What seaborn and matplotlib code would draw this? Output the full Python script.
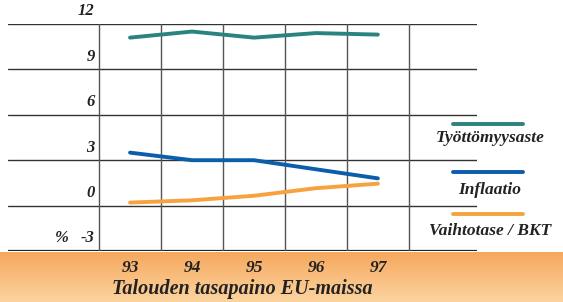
import numpy as np
import pandas as pd
import matplotlib.pyplot as plt
import seaborn as sns
from matplotlib.lines import Line2D

years = [93, 94, 95, 96, 97]
unemployment = [11.1, 11.5, 11.1, 11.4, 11.3]
inflation = [3.5, 3.0, 3.0, 2.4, 1.8]
current_account = [0.2, 0.35, 0.65, 1.15, 1.45]
series_names = ["Työttömyysaste", "Inflaatio", "Vaihtotase / BKT"]
y_ticks = [12, 9, 6, 3, 0, -3]
colors = ["#2a837e", "#0b5eab", "#f7a240"]

df = pd.DataFrame({
    "year": years * 3,
    "value": unemployment + inflation + current_account,
    "series": [s for s in series_names for _ in years],
})

sns.set_style("white")
plt.rcParams["font.family"] = ["Liberation Serif", "DejaVu Serif"]

fig = plt.figure(figsize=(5.63, 3.02), dpi=100)
ax = fig.add_axes([8 / 563, 51 / 302, 469 / 563, 227 / 302])

# grid
for y in y_ticks[:-1]:
    ax.axhline(y, color="#333333", lw=1.0, zorder=1)
ax.axhline(-3, color="#222222", lw=1.6, zorder=1)
for x in np.arange(92.5, 98, 1.0):
    ax.axvline(x, color="#555555", lw=1.0, zorder=1)

sns.lineplot(data=df, x="year", y="value", hue="series", palette=colors,
             linewidth=2.8, legend=False, ax=ax, zorder=3)

ax.set_xlim(91.03, 98.6)
ax.set_ylim(-3, 12)
ax.set_xticks([])
ax.set_yticks([])
ax.set_xlabel("")
ax.set_ylabel("")
for s in ax.spines.values():
    s.set_visible(False)

font = dict(style="italic", weight="bold", color="#222222")
for y in y_ticks:
    ax.text(92.43, y + 0.3, str(y), ha="right", va="bottom",
            fontsize=12, **font)
ax.text(91.9, -2.7, "%", ha="center", va="bottom", fontsize=12, **font)

# bottom orange band
band = fig.add_axes([0, 0, 1, 50 / 302], zorder=-1)
top = np.array([246, 167, 92]) / 255
bot = np.array([252, 212, 160]) / 255
grad = np.linspace(0, 1, 100)[:, None, None]
img = top + (bot - top) * grad
band.imshow(np.repeat(img, 2, axis=1), aspect="auto", extent=[0, 1, 0, 1])
band.set_axis_off()

for yr in years:
    xf = (99 + (yr - 92.5) * 62) / 563
    fig.text(xf, 34 / 302, str(yr), ha="center", va="center", fontsize=12.5, **font)
fig.text(242 / 563, 13 / 302, "Talouden tasapaino EU-maissa", ha="center",
         va="center", fontsize=14.5, **font)

# legend
leg_y = [124, 172, 214]
txt_y = [138, 190, 231]
for c, name, ly, ty in zip(colors, series_names, leg_y, txt_y):
    fig.add_artist(Line2D([453 / 563, 523 / 563], [1 - ly / 302] * 2,
                          color=c, lw=2.8))
    fig.text(490 / 563, 1 - ty / 302, name, ha="center",
             va="center", fontsize=12.5, **font)

fig.savefig("out.png", dpi=100)
